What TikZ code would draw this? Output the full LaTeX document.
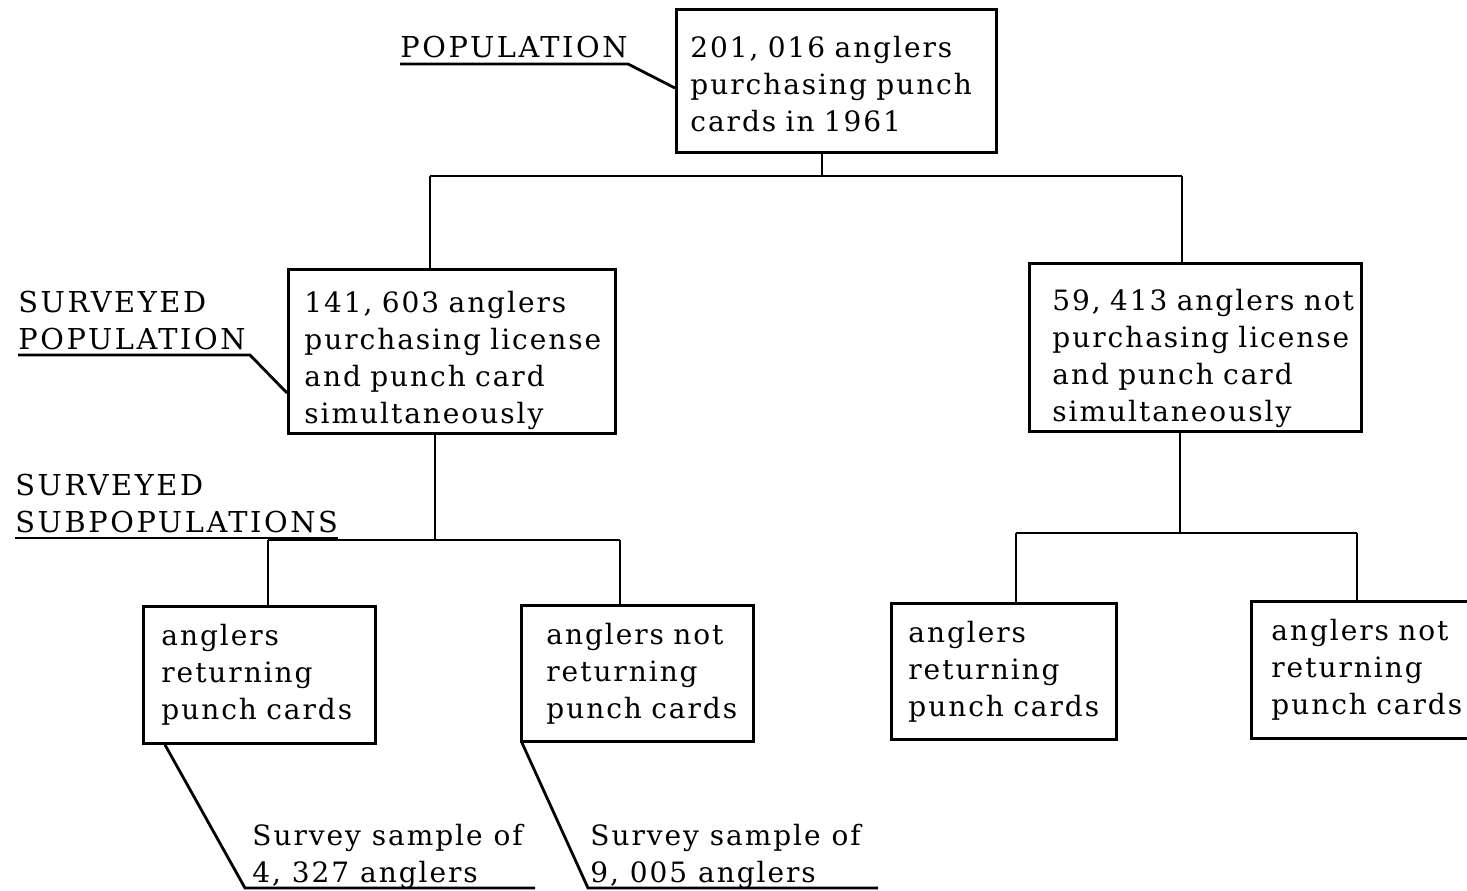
\documentclass[tikz,border=0pt]{standalone}
\usepackage{fontspec}
\setmainfont{DejaVu Serif}[LetterSpace=7]
\newcommand\dfont{\fontsize{14pt}{18.5pt}\selectfont}
\newcommand\lfont{\fontsize{14.4pt}{18.5pt}\selectfont\addfontfeatures{LetterSpace=9}}
\newcommand\lift[1]{\rule{0pt}{#1}}
\begin{document}
\begin{tikzpicture}[x=0.5pt,y=-0.5pt,
  box/.style={draw, line width=1.4pt, anchor=north west, align=left, inner ysep=0pt, font=\dfont},
  lab/.style={inner sep=0pt, align=left, font=\lfont},
  smp/.style={inner sep=0pt, align=left, font=\dfont},
  conn/.style={line width=1.4pt}]
\useasboundingbox (0,0) rectangle (1467,890);

% boxes
\node[box, minimum width=160pt, minimum height=71.5pt, inner xsep=7pt, text width=146pt] (top) at (675,8)
  {\lift{13.6pt}\mbox{201, 016 anglers}\\\mbox{purchasing punch}\\\mbox{cards in 1961}};
\node[box, minimum width=163.5pt, minimum height=82pt, inner xsep=8pt, text width=147.5pt] (midL) at (287,268)
  {\lift{19.6pt}\mbox{141, 603 anglers}\\\mbox{purchasing license}\\\mbox{and punch card}\\\mbox{simultaneously}};
\node[box, minimum width=166pt, minimum height=84pt, inner xsep=11.5pt, text width=143pt] (midR) at (1028,262)
  {\lift{21.6pt}\mbox{59, 413 anglers not}\\\mbox{purchasing license}\\\mbox{and punch card}\\\mbox{simultaneously}};
\node[box, minimum width=116pt, minimum height=68.5pt, inner xsep=9pt, text width=98pt] (box1) at (142,605)
  {\mbox{anglers}\\\mbox{returning}\\\mbox{punch cards}};
\node[box, minimum width=116pt, minimum height=68pt, inner xsep=12.5pt, text width=91pt] (box2) at (520,604)
  {\mbox{anglers not}\\\mbox{returning}\\\mbox{punch cards}};
\node[box, minimum width=112.5pt, minimum height=68pt, inner xsep=8.5pt, text width=95.5pt] (box3) at (890,602)
  {\mbox{anglers}\\\mbox{returning}\\\mbox{punch cards}};
\node[box, minimum width=116pt, minimum height=68.5pt, inner xsep=10pt, text width=96pt] (box4) at (1250,600)
  {\mbox{anglers not}\\\mbox{returning}\\\mbox{punch cards}};

% labels
\node[lab, anchor=base west] (pop) at (400,57) {POPULATION};
\node[lab, anchor=south west] (svp) at (18,350) {SURVEYED\\POPULATION};
\node[lab, anchor=south west] (sub) at (15,533) {SURVEYED\\SUBPOPULATIONS};
\node[smp, anchor=south west] (s1) at (252,889) {Survey sample of\\4, 327 anglers};
\node[smp, anchor=south west] (s2) at (590,889) {Survey sample of\\9, 005 anglers};

% bus coordinates
\coordinate (b1M) at (822,176); \coordinate (b1L) at (430,176); \coordinate (b1R) at (1182,176);
\coordinate (b2M) at (435,540); \coordinate (b2L) at (268,540); \coordinate (b2R) at (620,540);
\coordinate (b3M) at (1180,533); \coordinate (b3L) at (1016,533); \coordinate (b3R) at (1357,533);

\draw[conn] (b1M |- top.south) -- (b1M);
\draw[conn] (b1L) -- (b1R);
\draw[conn] (b1L) -- (b1L |- midL.north);
\draw[conn] (b1R) -- (b1R |- midR.north);

\draw[conn] (b2M |- midL.south) -- (b2M);
\draw[conn] (b2L) -- (b2R);
\draw[conn] (b2L) -- (b2L |- box1.north);
\draw[conn] (b2R) -- (b2R |- box2.north);

\draw[conn] (b3M |- midR.south) -- (b3M);
\draw[conn] (b3L) -- (b3R);
\draw[conn] (b3L) -- (b3L |- box3.north);
\draw[conn] (b3R) -- (b3R |- box4.north);

% callouts
\draw[conn] ([yshift=-3.5pt]pop.base west) -- ([yshift=-3.5pt]pop.base east) -- ([yshift=-40pt]top.north west);
\draw[conn] ([yshift=-2.5pt]svp.south west) -- ([yshift=-2.5pt,xshift=2pt]svp.south east) -- ([yshift=-62.5pt]midL.north west);
\draw[conn] ([yshift=-2.5pt]sub.south west) -- ([yshift=-2.5pt]sub.south east);

\coordinate (k1) at (245,888); \coordinate (k1e) at (535,888);
\coordinate (k2) at (588,888); \coordinate (k2e) at (878,888);
\draw[conn] ([xshift=11.5pt]box1.south west) -- (k1) -- (k1e);
\draw[conn] ([xshift=1pt]box2.south west) -- (k2) -- (k2e);
\end{tikzpicture}
\end{document}
